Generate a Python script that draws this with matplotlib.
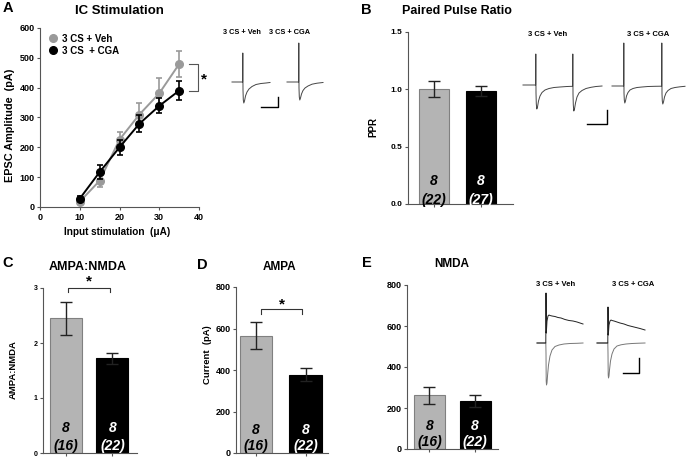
import matplotlib
matplotlib.use('Agg')
import matplotlib.pyplot as plt
from matplotlib.lines import Line2D

plt.rcParams['font.family'] = ['Liberation Sans', 'DejaVu Sans']
plt.rcParams['font.weight'] = 'bold'

W, H = 688, 458

# panel A: input/output curve
stim_ua = [10, 15, 20, 25, 30, 35]
veh_epsc = [18, 88, 226, 310, 381, 479]
veh_sem = [8, 21, 27, 40, 50, 44]
cga_epsc = [28, 117, 200, 279, 339, 390]
cga_sem = [8, 24, 25, 28, 25, 31]

# bar panels (Veh, CGA)
groups = ['3 CS + Veh', '3 CS + CGA']
ppr = [1.00, 0.985]
ppr_sem = [0.07, 0.04]
ppr_n = ['(22)', '(27)']
ampa_nmda = [2.45, 1.72]
ampa_nmda_sem = [0.30, 0.10]
ampa = [566, 378]
ampa_sem = [66, 31]
nmda = [261, 234]
nmda_sem = [40, 30]
cell_n = ['(16)', '(22)']
animals = ['8', '8']

# example traces (inset units)
a_veh_t = [7, 17.6, 17.8, 18, 18.3, 18.8, 19.5, 20.5, 22, 24, 27, 31, 36, 41, 45]
a_veh_v = [0, 0, 29, -8, -18, -21, -19, -14, -10, -7, -4.5, -2.5, -1.5, -1, -0.5]
a_cga_t = [62, 73.6, 73.8, 74, 74.3, 74.8, 75.5, 76.5, 78, 80, 83, 87, 92, 98]
a_cga_v = [0, 0, 39, -6, -15, -18, -16, -12, -8.5, -6, -4, -2.2, -1.2, -0.5]

b_veh_t = [8, 20.6, 20.8, 21, 21.3, 21.8, 22.5, 23.5, 25, 27, 30, 34, 39, 45, 52,
           57.6, 57.8, 58, 58.3, 58.8, 59.5, 60.5, 62, 64, 67, 71, 76, 81, 87]
b_veh_v = [0, 0, 31, -8, -19, -24, -22, -16, -11, -7.5, -5, -3.5, -2.5, -2, -1.5,
           -1.3, 31, -9, -20, -26, -24, -18, -12, -8, -5.5, -3.5, -2.3, -1.5, -1]
b_cga_t = [97, 108.6, 108.8, 109, 109.3, 109.8, 110.5, 111.5, 113, 115, 118, 122, 127, 133, 140,
           146.6, 146.8, 147, 147.3, 147.8, 148.5, 149.5, 151, 153, 156, 160, 165, 170]
b_cga_v = [-1, -1, 42, -8, -15, -18, -16, -11, -7.5, -5, -3.5, -2.5, -2, -1.5, -1.3,
           -1.2, 42, -9, -16, -19, -17, -12, -8, -5.5, -3.5, -2.5, -1.8, -1.3]

e_veh_up_t = [7, 15.8, 16, 16.3, 17, 18, 19, 20, 22, 25, 28, 31, 35, 39, 43, 47, 50, 53]
e_veh_up_v = [0, 0, 50, 10, 22, 27, 28, 27.5, 27, 26.5, 25.5, 25, 23.5, 22.5, 22, 21, 20, 19]
e_veh_lo_t = [7, 15.8, 16, 16.2, 16.5, 17, 17.5, 18.5, 20, 22, 25, 29, 34, 40, 47, 53]
e_veh_lo_v = [0, 0, -10, -38, -42, -40, -33, -22, -13, -7, -3.5, -2, -1, -0.5, -0.3, 0]
e_cga_up_t = [67, 77.8, 78, 78.3, 79, 80, 81, 82, 84, 87, 90, 94, 98, 102, 106, 110, 115]
e_cga_up_v = [0, 0, 36, 8, 18, 22, 23, 22.5, 22, 21, 20, 19, 17.5, 16.5, 15.5, 14.5, 13]
e_cga_lo_t = [67, 77.8, 78, 78.2, 78.5, 79, 79.5, 80.5, 82, 84, 87, 91, 96, 102, 109, 115]
e_cga_lo_v = [0, 0, -10, -32, -35, -33, -27, -18, -11, -6, -3, -1.8, -1, -0.5, -0.2, 0]

GRAY = '#b4b4b4'
SPINE = '#555555'

fig = plt.figure(figsize=(W / 100, H / 100), dpi=100)


def ax_px(x0, y0, x1, y1):
    return fig.add_axes([x0 / W, 1 - y1 / H, (x1 - x0) / W, (y1 - y0) / H])


def txt(x, y, s, **kw):
    kw.setdefault('ha', 'center')
    kw.setdefault('va', 'center')
    fig.text(x / W, 1 - y / H, s, **kw)


def style(ax, fs=6):
    for s in ['top', 'right']:
        ax.spines[s].set_visible(False)
    for s in ['left', 'bottom']:
        ax.spines[s].set_color(SPINE)
        ax.spines[s].set_linewidth(0.8)
    ax.tick_params(length=2.5, width=0.8, color=SPINE, labelsize=fs, pad=1.5)
    for lab in ax.get_xticklabels() + ax.get_yticklabels():
        lab.set_fontweight('bold')


def bars(ax, vals, sems, ns, xlim, width, ylim, yticks, fs=6.5, ty=(0.14, 0.04)):
    ax.bar([0, 1], vals, width=width, color=[GRAY, 'black'],
           edgecolor=['#808080', 'black'], linewidth=0.8)
    ax.errorbar([0, 1], vals, yerr=sems, fmt='none', ecolor='#222222',
                elinewidth=1, capsize=4, capthick=1)
    ax.set_xlim(*xlim)
    ax.set_ylim(*ylim)
    ax.set_yticks(yticks)
    ax.set_xticks([0, 1])
    ax.set_xticklabels(['', ''])
    style(ax, fs)
    for i, c in enumerate(['black', 'white']):
        ax.text(i, ty[0], animals[i], transform=ax.get_xaxis_transform(), ha='center',
                va='center', fontsize=10, fontweight='bold', style='italic', color=c)
        ax.text(i, ty[1], ns[i], transform=ax.get_xaxis_transform(), ha='center',
                va='center', fontsize=10, fontweight='bold', style='italic', color=c)


def bracket(ax, x0, x1, y, drop, star_y):
    ax.plot([x0, x0, x1, x1], [y - drop, y, y, y - drop], color='#333333', lw=0.8, clip_on=False)
    ax.text((x0 + x1) / 2, star_y, '*', ha='center', va='center', fontsize=11,
            fontweight='bold', clip_on=False)


def inset(box, ylim):
    ax = ax_px(*box)
    ax.set_xlim(0, box[2] - box[0])
    ax.set_ylim(*ylim)
    ax.axis('off')
    return ax


# ---- panel A
axA = ax_px(40, 28, 199, 207)
axA.errorbar(stim_ua, veh_epsc, yerr=veh_sem, color='#9a9a9a', marker='o', ms=5.5,
             lw=1.4, capsize=2.5, elinewidth=1.2, capthick=1.2, clip_on=False, zorder=3)
axA.errorbar(stim_ua, cga_epsc, yerr=cga_sem, color='black', marker='o', ms=5.5,
             lw=1.4, capsize=2.5, elinewidth=1.2, capthick=1.2, clip_on=False, zorder=4)
axA.set_xlim(0, 40)
axA.set_ylim(0, 600)
axA.set_xticks([0, 10, 20, 30, 40])
axA.set_yticks([0, 100, 200, 300, 400, 500, 600])
style(axA, 6.5)
handles = [Line2D([], [], color='#9a9a9a', marker='o', ls='none', ms=5.5),
           Line2D([], [], color='black', marker='o', ls='none', ms=5.5)]
leg = axA.legend(handles, ['3 CS + Veh', '3 CS  + CGA'], loc='upper left', frameon=False,
                 fontsize=7, handlelength=0.8, handletextpad=0.5, labelspacing=0.2,
                 borderaxespad=0.2, bbox_to_anchor=(0.02, 1.0))
axA.plot([37.5, 39.7, 39.7, 37.5], [479, 479, 390, 390], color='#555555', lw=0.8, clip_on=False)
axA.text(41.2, 428, '*', fontsize=11, fontweight='bold', ha='center', va='center', clip_on=False)

txt(3, 8, 'A', ha='left', fontsize=10.5, fontweight='bold')
txt(119, 11, 'IC Stimulation', fontsize=9.5, fontweight='bold')
txt(10, 125, 'EPSC Amplitude  (pA)', rotation=90, fontsize=7.8, fontweight='bold')
txt(117, 232, 'Input stimulation  (\u03bcA)', fontsize=7.2, fontweight='bold')

iA = inset((225, 38, 330, 112), (-30, 44))
iA.plot(a_veh_t, a_veh_v, color='#444444', lw=0.7)
iA.plot(a_cga_t, a_cga_v, color='#444444', lw=0.7)
iA.plot([36, 53, 53], [-25, -25, -15], color='black', lw=1)
txt(242, 32, '3 CS + Veh', fontsize=5.3, fontweight='bold')
txt(290, 32, '3 CS + CGA', fontsize=5.3, fontweight='bold')

# ---- panel B
axB = ax_px(408, 32, 513, 204)
bars(axB, ppr, ppr_sem, ppr_n, (-0.553, 1.68), 0.64, (0, 1.5), [0.0, 0.5, 1.0, 1.5], 6,
     ty=(0.135, 0.025))
axB.set_yticklabels(['0.0', '0.5', '1.0', '1.5'], fontweight='bold')
txt(361, 10, 'B', ha='left', fontsize=10.5, fontweight='bold')
txt(457, 11, 'Paired Pulse Ratio', fontsize=9, fontweight='bold')
txt(373, 127, 'PPR', rotation=90, fontsize=7, fontweight='bold')

iB = inset((515, 38, 690, 128), (-43, 47))
iB.plot(b_veh_t, b_veh_v, color='#444444', lw=0.7)
iB.plot(b_cga_t, b_cga_v, color='#444444', lw=0.7)
iB.plot([72, 92, 92], [-39, -39, -25], color='black', lw=1)
txt(548, 34, '3 CS + Veh', fontsize=5.5, fontweight='bold')
txt(648, 34, '3 CS + CGA', fontsize=5.5, fontweight='bold')

# ---- panel C
axC = ax_px(43, 288, 137, 453)
bars(axC, ampa_nmda, ampa_nmda_sem, cell_n, (-0.495, 1.53), 0.69, (0, 3), [0, 1, 2, 3], 5,
     ty=(0.15, 0.042))
bracket(axC, 0.04, 0.95, 3.0, 0.08, 3.12)
txt(2, 263, 'C', ha='left', fontsize=10.5, fontweight='bold')
txt(88, 267, 'AMPA:NMDA', fontsize=9, fontweight='bold')
txt(13, 370, 'AMPA:NMDA', rotation=90, fontsize=6.8, fontweight='bold')

# ---- panel D
axD = ax_px(236, 287, 328, 453)
bars(axD, ampa, ampa_sem, cell_n, (-0.40, 1.45), 0.65, (0, 800), [0, 200, 400, 600, 800], 6.5)
bracket(axD, 0.1, 0.93, 694, 22, 715)
txt(197, 265, 'D', ha='left', fontsize=10.5, fontweight='bold')
txt(280, 267, 'AMPA', fontsize=8.5, fontweight='bold')
txt(208, 355, 'Current  (pA)', rotation=90, fontsize=6.8, fontweight='bold')

# ---- panel E
axE = ax_px(407, 285, 498, 449)
bars(axE, nmda, nmda_sem, cell_n, (-0.49, 1.5), 0.68, (0, 800), [0, 200, 400, 600, 800], 6.5)
txt(362, 263, 'E', ha='left', fontsize=10.5, fontweight='bold')
txt(452, 264, 'NMDA', fontsize=8.5, fontweight='bold')

iE = inset((530, 285, 690, 392), (-49, 58))
iE.plot(e_veh_lo_t, e_veh_lo_v, color='#777777', lw=0.7)
iE.plot(e_veh_up_t, e_veh_up_v, color='#222222', lw=0.7)
iE.plot(e_cga_lo_t, e_cga_lo_v, color='#777777', lw=0.7)
iE.plot(e_cga_up_t, e_cga_up_v, color='#222222', lw=0.7)
iE.plot([93, 109, 109], [-30, -30, -15], color='black', lw=1)
txt(556, 284, '3 CS + Veh', fontsize=5.5, fontweight='bold')
txt(633, 284, '3 CS + CGA', fontsize=5.5, fontweight='bold')

fig.savefig('out.png', dpi=100)
